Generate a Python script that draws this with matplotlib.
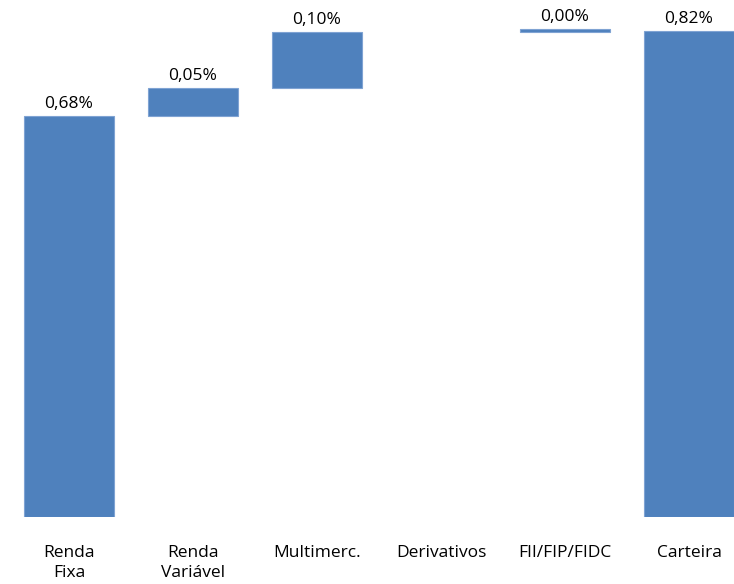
import matplotlib
matplotlib.use('Agg')
import matplotlib.pyplot as plt
import numpy as np

plt.rcParams['font.family'] = ['Open Sans', 'DejaVu Sans']

categories = ['Renda\nFixa', 'Renda\nVariável', 'Multimerc.', 'Derivativos', 'FII/FIP/FIDC', 'Carteira']
# contribuição de cada classe (%); Derivativos sem valor
contrib = [0.68, 0.047, 0.096, np.nan, 0.004]
total = 0.824
value_labels = ['0,68%', '0,05%', '0,10%', '', '0,00%', '0,82%']

bar_color = '#4F81BD'


def waterfall():
    heights = []
    bottoms = []
    acc = 0.0
    for v in contrib:
        if np.isnan(v):
            heights.append(np.nan)
            bottoms.append(acc)
            continue
        heights.append(v)
        bottoms.append(acc)
        acc += v
    heights.append(total)
    bottoms.append(0.0)
    return np.array(heights), np.array(bottoms)


def show():
    heights, bottoms = waterfall()
    x = np.arange(len(categories))

    fig = plt.figure(figsize=(7.34, 5.84), dpi=100)
    ax = fig.add_axes([0, 67 / 584, 1, 517 / 584])

    mask = ~np.isnan(heights)
    rects = ax.bar(x[mask], heights[mask], 0.726, bottom=bottoms[mask],
                   color=bar_color, edgecolor='#7FA3D3', linewidth=0.8)

    for rect, lab in zip(rects, np.array(value_labels)[mask]):
        ax.annotate(lab,
                    xy=(rect.get_x() + rect.get_width() / 2, rect.get_y() + rect.get_height()),
                    xytext=(0, 3), textcoords='offset points',
                    ha='center', va='bottom', fontsize=12.5, color='black')

    ax.set_xlim(-69 / 124, (734 - 69) / 124)
    ax.set_ylim(0, 517 / 589.7)
    ax.set_xticks(x)
    ax.set_xticklabels(categories, fontsize=12.5, linespacing=1.35)
    ax.tick_params(axis='x', length=0, pad=20)
    ax.set_yticks([])
    for s in ax.spines.values():
        s.set_visible(False)

    fig.savefig('out.png', dpi=100)


if __name__ == '__main__':
    show()
